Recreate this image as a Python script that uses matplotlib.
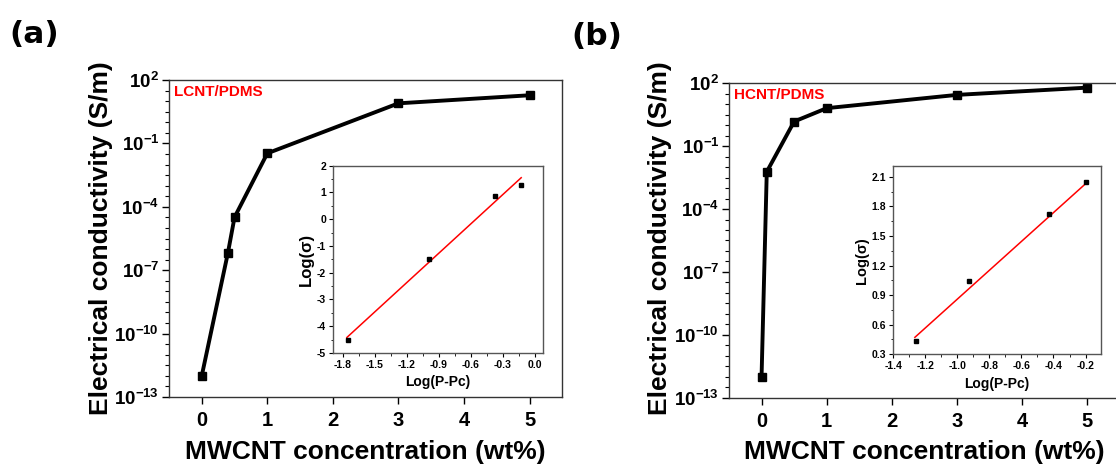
import numpy as np
import matplotlib
matplotlib.use('Agg')
import matplotlib.pyplot as plt
from matplotlib.ticker import FixedLocator, FuncFormatter, MultipleLocator

plt.rcParams['font.family'] = ['Liberation Sans', 'DejaVu Sans']
plt.rcParams['mathtext.fontset'] = 'custom'
plt.rcParams['mathtext.rm'] = 'Liberation Sans'
plt.rcParams['mathtext.bf'] = 'Liberation Sans:bold'
plt.rcParams['axes.unicode_minus'] = False

# main curves (wt% vs S/m)
conc_a = [0, 0.4, 0.5, 1, 3, 5]
sigma_a = [1.0e-12, 6.8e-7, 3.2e-5, 0.034, 7.9, 19]
conc_b = [0, 0.08, 0.5, 1, 3, 5]
sigma_b = [1.0e-12, 6.0e-3, 1.5, 6.5, 28, 62]

# insets: Log(P-Pc) vs Log(sigma)
inset_x_a = [-1.753, -0.99, -0.37, -0.128]
inset_y_a = [-4.50, -1.48, 0.88, 1.28]
fit_x_a = [-1.76, -0.125]
fit_y_a = [-4.42, 1.55]

inset_x_b = [-1.259, -0.926, -0.427, -0.198]
inset_y_b = [0.438, 1.043, 1.722, 2.046]
fit_x_b = [-1.265, -0.20]
fit_y_b = [0.472, 2.03]

fig = plt.figure(figsize=(11.16, 4.65), dpi=100)


def draw_main(rect, x, y, tag, tag_pos):
    ax = fig.add_axes(rect)
    ax.plot(x, y, color='black', lw=2.8, marker='s', ms=6, mfc='black', mec='black')
    ax.set_yscale('log')
    ax.set_xlim(-0.5, 5.5)
    ax.set_ylim(1e-13, 1e2)
    ax.yaxis.set_major_locator(FixedLocator([10.0 ** k for k in range(-13, 3, 3)]))
    ax.yaxis.set_minor_locator(FixedLocator([10.0 ** (k / 2) for k in range(-26, 5)]))
    ax.yaxis.set_major_formatter(FuncFormatter(lambda v, p: r'$\mathbf{10^{%d}}$' % round(np.log10(v))))
    ax.yaxis.set_minor_formatter(FuncFormatter(lambda v, p: ''))
    ax.set_xticks([0, 1, 2, 3, 4, 5])
    ax.tick_params(axis='both', which='major', direction='out', length=5, width=1, labelsize=14.5)
    ax.tick_params(axis='y', which='minor', direction='out', length=3, width=0.8)
    ax.tick_params(axis='y', which='major', labelsize=13.5, pad=2)
    ax.tick_params(axis='x', which='major', pad=5)
    for lab in ax.get_xticklabels():
        lab.set_fontweight('bold')
    for s in ax.spines.values():
        s.set_color('#333333')
        s.set_linewidth(1)
    ax.text(tag_pos[0], tag_pos[1], tag, transform=ax.transAxes, color='red',
            fontsize=11, fontweight='bold', ha='left', va='center')
    return ax


def draw_inset(rect, x, y, fx, fy, xlim, ylim, xstep, ystep, ylab_size):
    ax = fig.add_axes(rect)
    ax.plot(fx, fy, color='red', lw=1.1)
    ax.plot(x, y, 's', color='black', ms=3.5, ls='none')
    ax.set_xlim(*xlim)
    ax.set_ylim(*ylim)
    ax.xaxis.set_major_locator(MultipleLocator(xstep))
    ax.yaxis.set_major_locator(MultipleLocator(ystep))
    ax.xaxis.set_minor_locator(MultipleLocator(xstep / 2))
    ax.yaxis.set_minor_locator(MultipleLocator(ystep / 2))
    ax.tick_params(axis='both', which='major', direction='out', length=3, width=0.8, labelsize=7.5, pad=2)
    ax.tick_params(axis='both', which='minor', direction='out', length=1.8, width=0.6)
    for lab in ax.get_xticklabels() + ax.get_yticklabels():
        lab.set_fontweight('bold')
    for s in ax.spines.values():
        s.set_color('#555555')
        s.set_linewidth(1)
    ax.set_xlabel('Log(P-Pc)', fontsize=10, fontweight='bold', labelpad=4)
    ax.set_ylabel('Log(σ)', fontsize=ylab_size, fontweight='bold', labelpad=2)
    return ax


ax_a = draw_main([0.1514, 0.1462, 0.3525, 0.6817], conc_a, sigma_a, 'LCNT/PDMS', (0.013, 0.962))
ax_b = draw_main([0.6532, 0.1447, 0.3504, 0.6762], conc_b, sigma_b, 'HCNT/PDMS', (0.012, 0.963))

in_a = draw_inset([0.2984, 0.2409, 0.1882, 0.4028], inset_x_a, inset_y_a, fit_x_a, fit_y_a,
                  (-1.89, 0.08), (-5, 2), 0.3, 1, 12)
in_b = draw_inset([0.8004, 0.2381, 0.1861, 0.4049], inset_x_b, inset_y_b, fit_x_b, fit_y_b,
                  (-1.4, -0.104), (0.3, 2.21), 0.2, 0.3, 10.5)

for xc, lab in [(0.0905, 'Electrical conductivity (S/m)'), (0.591, 'Electrical conductivity (S/m)')]:
    fig.text(xc, 0.488, lab, rotation=90, fontsize=19, fontweight='bold', ha='center', va='center')
for xc in [0.327, 0.8286]:
    fig.text(xc, 0.028, 'MWCNT concentration (wt%)', fontsize=19, fontweight='bold', ha='center', va='center')

fig.text(0.031, 0.926, '(a)', fontsize=22.5, fontweight='bold', family='DejaVu Sans', ha='center', va='center')
fig.text(0.535, 0.922, '(b)', fontsize=22.5, fontweight='bold', family='DejaVu Sans', ha='center', va='center')

fig.savefig('out.png', dpi=100)
